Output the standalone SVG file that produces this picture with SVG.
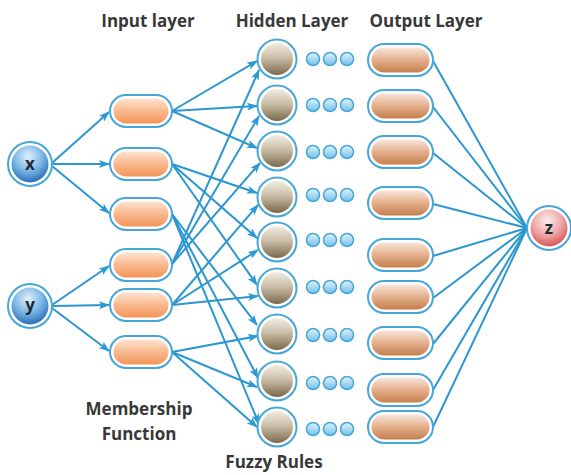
<svg xmlns="http://www.w3.org/2000/svg" width="571" height="475" viewBox="0 0 571 475">
<defs>
<radialGradient id="gBlue" cx="0.45" cy="0.3" r="0.75">
<stop offset="0" stop-color="#e2f1fb"/><stop offset="0.5" stop-color="#7db8e6"/><stop offset="1" stop-color="#1f64b2"/>
</radialGradient>
<radialGradient id="gRed" cx="0.45" cy="0.3" r="0.75">
<stop offset="0" stop-color="#fbeeee"/><stop offset="0.55" stop-color="#eea3a4"/><stop offset="1" stop-color="#d2474c"/>
</radialGradient>
<linearGradient id="gHid" x1="0" y1="0" x2="0" y2="1">
<stop offset="0" stop-color="#f1ece3"/><stop offset="0.45" stop-color="#cbbfa8"/><stop offset="1" stop-color="#7a6a4c"/>
</linearGradient>
<linearGradient id="gIn" x1="0" y1="0" x2="0" y2="1">
<stop offset="0" stop-color="#fde3d0"/><stop offset="0.5" stop-color="#f9b98f"/><stop offset="1" stop-color="#f3945a"/>
</linearGradient>
<linearGradient id="gOut" x1="0" y1="0" x2="0" y2="1">
<stop offset="0" stop-color="#f8e6dc"/><stop offset="0.45" stop-color="#e6b493"/><stop offset="1" stop-color="#c57f4d"/>
</linearGradient>
<linearGradient id="gDot" x1="0" y1="0" x2="0" y2="1">
<stop offset="0" stop-color="#e3f4fc"/><stop offset="1" stop-color="#6fc0e8"/>
</linearGradient>
<marker id="ah" markerWidth="11" markerHeight="8" refX="10" refY="4" orient="auto" markerUnits="userSpaceOnUse">
<path d="M0,0 L11,4 L0,8 L2.5,4 Z" fill="#2a9ad6"/>
</marker>
<style>
.ring{fill:#ffffff;stroke:#45a7d9;stroke-width:2}
.lbl{font-family:"Open Sans","Liberation Sans",sans-serif;font-weight:700;font-size:17px;fill:#383838;text-anchor:middle}
.nl{font-family:"Open Sans","Liberation Sans",sans-serif;font-weight:700;font-size:17px;fill:#1f2b3a;text-anchor:middle}
.ln{stroke:#2b96cf;stroke-width:2;fill:none}
.arr{marker-end:url(#ah)}
.dot{fill:url(#gDot);stroke:#45a7d9;stroke-width:1.5}
</style>
</defs>
<rect width="571" height="475" fill="#ffffff"/>

<g id="labels">
<text class="lbl" x="148" y="27">Input layer</text>
<text class="lbl" x="292" y="27">Hidden Layer</text>
<text class="lbl" x="426" y="27">Output Layer</text>
<text class="lbl" x="139" y="415">Membership</text>
<text class="lbl" x="139" y="440">Function</text>
<text class="lbl" x="274" y="468">Fuzzy Rules</text>
</g>

<g id="connectors">
<path class="ln arr" d="M52,163 L109,112"/>
<path class="ln arr" d="M53,164 L109,164"/>
<path class="ln arr" d="M52,166 L109,213"/>
<path class="ln arr" d="M52,305 L109,266"/>
<path class="ln arr" d="M53,306 L109,305"/>
<path class="ln arr" d="M52,308 L109,351"/>

<path class="ln arr" d="M172,111 L257,61"/>
<path class="ln arr" d="M172,111 L257,106"/>
<path class="ln arr" d="M172,111 L257,148"/>
<path class="ln arr" d="M172,164 L257,193"/>
<path class="ln arr" d="M172,164 L257,238"/>
<path class="ln arr" d="M172,164 L257,285"/>
<path class="ln arr" d="M172,214 L257,325"/>
<path class="ln arr" d="M172,214 L258,378"/>
<path class="ln arr" d="M172,214 L259,424"/>
<path class="ln arr" d="M172,264 L259,70"/>
<path class="ln arr" d="M172,264 L259,116"/>
<path class="ln arr" d="M172,264 L260,163"/>
<path class="ln arr" d="M172,305 L258,205"/>
<path class="ln arr" d="M172,305 L258,250"/>
<path class="ln arr" d="M172,305 L258,296"/>
<path class="ln arr" d="M172,352 L258,336"/>
<path class="ln arr" d="M172,352 L257,387"/>
<path class="ln arr" d="M172,352 L257,427"/>

<path class="ln" d="M433,61 L527,228"/>
<path class="ln" d="M433,107 L527,228"/>
<path class="ln" d="M433,153 L527,228"/>
<path class="ln" d="M433,204 L527,228"/>
<path class="ln" d="M433,256 L527,228"/>
<path class="ln" d="M433,298 L527,228"/>
<path class="ln" d="M433,344 L527,228"/>
<path class="ln" d="M433,390 L527,228"/>
<path class="ln" d="M433,427 L527,228"/>
</g>

<g id="node-x"><circle class="ring" cx="30" cy="164" r="22"/><circle cx="30" cy="164" r="18.5" fill="url(#gBlue)"/><text class="nl" x="30" y="170">x</text></g>
<g id="node-y"><circle class="ring" cx="30" cy="306" r="22"/><circle cx="30" cy="306" r="18.5" fill="url(#gBlue)"/><text class="nl" x="30" y="311">y</text></g>
<g id="node-z"><circle class="ring" cx="549" cy="228" r="22"/><circle cx="549" cy="228" r="18.5" fill="url(#gRed)"/><text class="nl" x="549" y="234">z</text></g>

<g id="mf1"><rect class="ring" x="110" y="95" width="62" height="32" rx="16"/><rect x="113.5" y="98.5" width="55" height="25" rx="12.5" fill="url(#gIn)"/></g>
<g id="mf2"><rect class="ring" x="110" y="148" width="62" height="32" rx="16"/><rect x="113.5" y="151.5" width="55" height="25" rx="12.5" fill="url(#gIn)"/></g>
<g id="mf3"><rect class="ring" x="110" y="198" width="62" height="32" rx="16"/><rect x="113.5" y="201.5" width="55" height="25" rx="12.5" fill="url(#gIn)"/></g>
<g id="mf4"><rect class="ring" x="110" y="249" width="62" height="32" rx="16"/><rect x="113.5" y="252.5" width="55" height="25" rx="12.5" fill="url(#gIn)"/></g>
<g id="mf5"><rect class="ring" x="110" y="289" width="62" height="32" rx="16"/><rect x="113.5" y="292.5" width="55" height="25" rx="12.5" fill="url(#gIn)"/></g>
<g id="mf6"><rect class="ring" x="110" y="336" width="62" height="32" rx="16"/><rect x="113.5" y="339.5" width="55" height="25" rx="12.5" fill="url(#gIn)"/></g>

<g id="rule1"><circle class="ring" cx="277" cy="59" r="19.5"/><circle cx="277" cy="59" r="16" fill="url(#gHid)"/><circle class="dot" cx="313" cy="59" r="6.5"/><circle class="dot" cx="330" cy="59" r="6.5"/><circle class="dot" cx="347" cy="59" r="6.5"/></g>
<g id="rule2"><circle class="ring" cx="277" cy="105" r="19.5"/><circle cx="277" cy="105" r="16" fill="url(#gHid)"/><circle class="dot" cx="313" cy="105" r="6.5"/><circle class="dot" cx="330" cy="105" r="6.5"/><circle class="dot" cx="347" cy="105" r="6.5"/></g>
<g id="rule3"><circle class="ring" cx="277" cy="151" r="19.5"/><circle cx="277" cy="151" r="16" fill="url(#gHid)"/><circle class="dot" cx="313" cy="152" r="6.5"/><circle class="dot" cx="330" cy="152" r="6.5"/><circle class="dot" cx="347" cy="152" r="6.5"/></g>
<g id="rule4"><circle class="ring" cx="277" cy="197" r="19.5"/><circle cx="277" cy="197" r="16" fill="url(#gHid)"/><circle class="dot" cx="313" cy="195" r="6.5"/><circle class="dot" cx="330" cy="195" r="6.5"/><circle class="dot" cx="347" cy="195" r="6.5"/></g>
<g id="rule5"><circle class="ring" cx="277" cy="242" r="19.5"/><circle cx="277" cy="242" r="16" fill="url(#gHid)"/><circle class="dot" cx="313" cy="240" r="6.5"/><circle class="dot" cx="330" cy="240" r="6.5"/><circle class="dot" cx="347" cy="240" r="6.5"/></g>
<g id="rule6"><circle class="ring" cx="277" cy="288" r="19.5"/><circle cx="277" cy="288" r="16" fill="url(#gHid)"/><circle class="dot" cx="313" cy="287" r="6.5"/><circle class="dot" cx="330" cy="287" r="6.5"/><circle class="dot" cx="347" cy="287" r="6.5"/></g>
<g id="rule7"><circle class="ring" cx="277" cy="334" r="19.5"/><circle cx="277" cy="334" r="16" fill="url(#gHid)"/><circle class="dot" cx="313" cy="335" r="6.5"/><circle class="dot" cx="330" cy="335" r="6.5"/><circle class="dot" cx="347" cy="335" r="6.5"/></g>
<g id="rule8"><circle class="ring" cx="277" cy="381" r="19.5"/><circle cx="277" cy="381" r="16" fill="url(#gHid)"/><circle class="dot" cx="313" cy="383" r="6.5"/><circle class="dot" cx="330" cy="383" r="6.5"/><circle class="dot" cx="347" cy="383" r="6.5"/></g>
<g id="rule9"><circle class="ring" cx="277" cy="427" r="19.5"/><circle cx="277" cy="427" r="16" fill="url(#gHid)"/><circle class="dot" cx="313" cy="429" r="6.5"/><circle class="dot" cx="330" cy="429" r="6.5"/><circle class="dot" cx="347" cy="429" r="6.5"/></g>

<g id="out1"><rect class="ring" x="368" y="44" width="65" height="32" rx="16"/><rect x="371.5" y="47.5" width="58" height="25" rx="12.5" fill="url(#gOut)"/></g>
<g id="out2"><rect class="ring" x="368" y="90" width="65" height="32" rx="16"/><rect x="371.5" y="93.5" width="58" height="25" rx="12.5" fill="url(#gOut)"/></g>
<g id="out3"><rect class="ring" x="368" y="136" width="65" height="32" rx="16"/><rect x="371.5" y="139.5" width="58" height="25" rx="12.5" fill="url(#gOut)"/></g>
<g id="out4"><rect class="ring" x="368" y="187" width="65" height="32" rx="16"/><rect x="371.5" y="190.5" width="58" height="25" rx="12.5" fill="url(#gOut)"/></g>
<g id="out5"><rect class="ring" x="368" y="239" width="65" height="32" rx="16"/><rect x="371.5" y="242.5" width="58" height="25" rx="12.5" fill="url(#gOut)"/></g>
<g id="out6"><rect class="ring" x="368" y="281" width="65" height="32" rx="16"/><rect x="371.5" y="284.5" width="58" height="25" rx="12.5" fill="url(#gOut)"/></g>
<g id="out7"><rect class="ring" x="368" y="327" width="65" height="32" rx="16"/><rect x="371.5" y="330.5" width="58" height="25" rx="12.5" fill="url(#gOut)"/></g>
<g id="out8"><rect class="ring" x="368" y="374" width="65" height="32" rx="16"/><rect x="371.5" y="377.5" width="58" height="25" rx="12.5" fill="url(#gOut)"/></g>
<g id="out9"><rect class="ring" x="368" y="411" width="65" height="32" rx="16"/><rect x="371.5" y="414.5" width="58" height="25" rx="12.5" fill="url(#gOut)"/></g>
</svg>
